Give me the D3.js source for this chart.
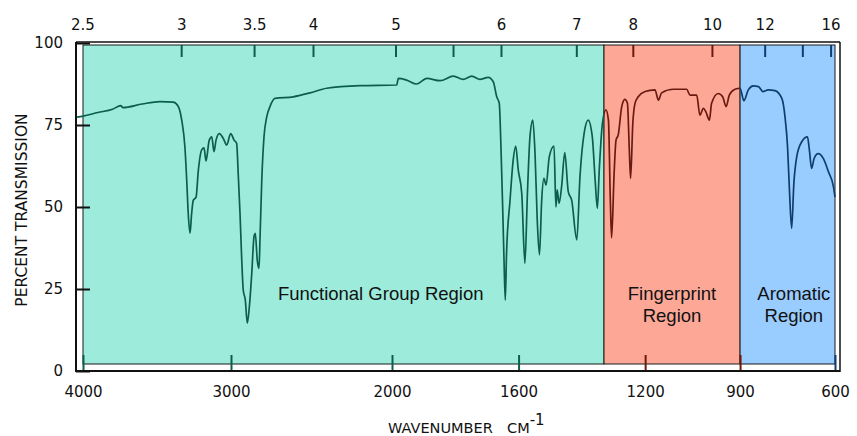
<!DOCTYPE html>
<html>
<head>
<meta charset="utf-8">
<script src="https://cdn.jsdelivr.net/npm/d3@7"></script>
<style>
  body { margin: 0; background: #fff; }
  svg text { font-family: "DejaVu Sans", sans-serif; fill: #111; }
  .tick-label { font-size: 15px; }
  .axis-label { font-size: 14.5px; }
  .region-label { font-family: "Liberation Sans", Arial, sans-serif; font-size: 18.5px; }
</style>
</head>
<body>
<svg width="857" height="436"></svg>
<script>
// spectrum: wavenumber (cm-1) -> percent transmission
const wavenumber = [
  4040, 4000, 3900, 3800, 3745, 3730, 3600, 3480, 3390, 3358, 3333,
  3311, 3299, 3289, 3277, 3266, 3255, 3236, 3221, 3198, 3182,
  3169, 3147, 3130, 3115, 3101, 3079, 3052, 3029, 3002, 2981,
  2965, 2955, 2944, 2934, 2924, 2911, 2899, 2886, 2871, 2857,
  2849, 2837, 2826, 2820, 2809, 2795, 2778, 2758, 2727, 2613,
  2509, 2406, 2199, 1985, 1980, 1954, 1922, 1890, 1848, 1806,
  1775, 1748, 1722, 1696, 1680, 1669, 1661, 1656, 1650, 1646,
  1642, 1638, 1627, 1617, 1609, 1601, 1590, 1580, 1572, 1564,
  1555, 1548, 1541, 1534, 1527, 1520, 1513, 1503, 1488, 1482,
  1478, 1472, 1464, 1454, 1443, 1432, 1416, 1406, 1393, 1380,
  1367, 1358, 1351, 1345, 1335, 1324, 1316, 1310, 1306, 1298,
  1292, 1285, 1274, 1264, 1256, 1250, 1246, 1239, 1232, 1222,
  1200, 1169, 1158, 1148, 1111, 1069, 1058, 1037, 1027, 1016,
  1008, 997, 990, 969, 955, 944, 934, 916, 900, 888,
  874, 858, 842, 828, 811, 790, 768, 758, 750, 744,
  737, 730, 721, 705, 687, 681, 674, 666, 653, 637,
  621, 605, 600
];
const transmission = [
  77.4, 77.7, 78.8, 79.8, 80.9, 80.3, 81.4, 82.1, 82.0, 80.8, 76.5,
  68.0, 58.0, 48.0, 42.0, 48.0, 52.0, 53.0, 61.0, 67.4, 68.0,
  64.0, 70.4, 71.4, 66.9, 70.4, 72.4, 70.9, 68.9, 72.4, 70.4,
  69.4, 60.0, 48.0, 34.8, 24.7, 21.6, 14.6, 19.6, 29.8, 41.0,
  42.0, 33.8, 31.3, 40.0, 58.0, 71.4, 77.5, 80.6, 83.1, 83.6,
  84.8, 86.2, 87.0, 87.2, 89.2, 88.7, 87.5, 89.2, 88.5, 89.9,
  88.9, 89.9, 88.9, 89.5, 88.2, 83.6, 81.6, 69.4, 49.0, 33.8,
  21.6, 35.9, 52.0, 64.3, 68.6, 61.3, 54.2, 32.8, 54.2, 71.4,
  76.5, 66.4, 46.0, 35.4, 52.0, 58.7, 56.7, 65.3, 68.6, 50.0,
  55.2, 51.1, 56.2, 66.6, 54.7, 52.0, 40.0, 59.2, 72.4, 76.5,
  71.4, 58.2, 49.6, 61.3, 75.5, 79.6, 76.5, 52.0, 40.6, 60.3,
  70.4, 72.0, 80.6, 82.8, 81.6, 67.4, 58.7, 75.5, 81.6, 83.6,
  85.2, 85.7, 82.6, 84.8, 85.9, 85.9, 84.1, 84.1, 78.0, 80.1,
  79.0, 76.5, 81.6, 84.6, 83.6, 80.6, 84.1, 85.9, 86.2, 82.4,
  85.7, 86.9, 86.7, 85.2, 85.7, 85.5, 83.1, 77.5, 68.4, 55.2,
  43.5, 57.2, 65.3, 69.9, 71.4, 67.4, 61.8, 64.8, 66.3, 64.8,
  60.8, 56.2, 53.0
];

const bottomTicks = [4000, 3000, 2000, 1600, 1200, 900, 600];
const micronTicks = [2.5, 3, 3.5, 4, 5, 5.5, 6, 7, 8, 10, 12, 14, 16];
const micronLabels = ['2.5', '3', '3.5', '4', '5', '', '6', '7', '8', '10', '12', '', '16'];
const percentTicks = [0, 25, 50, 75, 100];

const regionNames = [['Functional Group Region'], ['Fingerprint', 'Region'], ['Aromatic', 'Region']];
const regionFrom = [4000, 1330, 900];
const regionTo = [1330, 900, 600];

const fills = ['#9debdb', '#fda897', '#99ccff'];
const inks = ['#0b5e4e', '#6a1a10', '#0f3d6e'];

const svg = d3.select('svg');

const frame = { left: 76, right: 840, top: 42, bottom: 371 };
const inner = { top: 45, bottom: 364 };

// the chart paper changes scale at 2000 cm-1
const xScale = d3.scaleLinear()
    .domain([4000, 3000, 2000, 600])
    .range([83, 231, 392, 835]);
// micron scale along the top is printed a little skewed
const xTop = d3.scaleLinear()
    .domain([4000, 3000, 2000, 600])
    .range([83, 231, 396, 839]);
const yScale = d3.scaleLinear()
    .domain([0, 100])
    .range([371, 43]);

const regionOf = wn => {
    for (let i = 0; i < regionTo.length; i++) if (wn >= regionTo[i]) return i;
    return regionTo.length - 1;
};

// coloured regions
svg.append('g').selectAll('rect').data(regionFrom)
  .enter().append('rect')
    .attr('x', d => xScale(d))
    .attr('y', inner.top)
    .attr('width', (d, i) => xScale(regionTo[i]) - xScale(d))
    .attr('height', inner.bottom - inner.top)
    .attr('fill', (d, i) => fills[i])
    .attr('stroke', '#1a1a1a')
    .attr('stroke-width', 1);

// line colour follows the region underneath
const x0 = xScale(4000), x1 = xScale(600);
const grad = svg.append('defs').append('linearGradient')
    .attr('id', 'ink')
    .attr('gradientUnits', 'userSpaceOnUse')
    .attr('x1', x0).attr('x2', x1).attr('y1', 0).attr('y2', 0);
regionFrom.forEach((from, i) => {
    grad.append('stop').attr('offset', (xScale(from) - x0) / (x1 - x0)).attr('stop-color', inks[i]);
    grad.append('stop').attr('offset', (xScale(regionTo[i]) - x0) / (x1 - x0)).attr('stop-color', inks[i]);
});

// top micron ticks
const topG = svg.append('g');
micronTicks.forEach((m, i) => {
    const wn = 10000 / m;
    const x = xTop(wn);
    if (m !== 2.5) {
        topG.append('line')
            .attr('x1', x).attr('x2', x)
            .attr('y1', inner.top).attr('y2', inner.top + 12)
            .attr('stroke', inks[regionOf(wn)])
            .attr('stroke-width', 2);
    }
    if (micronLabels[i]) {
        topG.append('text')
            .attr('class', 'tick-label')
            .attr('x', m === 2.5 ? xScale(wn) : x)
            .attr('y', 30)
            .attr('text-anchor', 'middle')
            .text(micronLabels[i]);
    }
});

// bottom wavenumber axis
const xAxisG = svg.append('g')
    .attr('transform', `translate(0, ${frame.bottom})`)
    .call(d3.axisBottom(xScale).tickValues(bottomTicks).tickSize(-16).tickPadding(15).tickFormat(d3.format('d')));
xAxisG.select('.domain').remove();
xAxisG.selectAll('.tick line')
    .attr('stroke', d => inks[regionOf(d)])
    .attr('stroke-width', 2);
xAxisG.selectAll('.tick text').attr('class', 'tick-label');

// frame
const frameG = svg.append('g').attr('stroke', '#111').attr('fill', 'none');
frameG.append('line').attr('x1', frame.left).attr('x2', frame.right).attr('y1', frame.top).attr('y2', frame.top).attr('stroke-width', 1.5);
frameG.append('line').attr('x1', frame.left).attr('x2', frame.right).attr('y1', frame.bottom).attr('y2', frame.bottom).attr('stroke-width', 2);
frameG.append('line').attr('x1', frame.left).attr('x2', frame.left).attr('y1', frame.top).attr('y2', frame.bottom + 1).attr('stroke-width', 2);
frameG.append('line').attr('x1', frame.right).attr('x2', frame.right).attr('y1', frame.top).attr('y2', frame.bottom + 1).attr('stroke-width', 1.5);

// percent axis
const yAxisG = svg.append('g')
    .attr('transform', `translate(${frame.left}, 0)`)
    .call(d3.axisLeft(yScale).tickValues(percentTicks).tickSize(-14).tickPadding(13));
yAxisG.select('.domain').remove();
yAxisG.selectAll('.tick line').attr('stroke', '#111').attr('stroke-width', 2);
yAxisG.selectAll('.tick text').attr('class', 'tick-label');

// spectrum
const line = d3.line()
    .x(i => xScale(wavenumber[i]))
    .y(i => yScale(transmission[i]))
    .curve(d3.curveMonotoneX);

svg.append('path')
    .datum(d3.range(wavenumber.length))
    .attr('d', line)
    .attr('fill', 'none')
    .attr('stroke', 'url(#ink)')
    .attr('stroke-width', 1.7)
    .attr('stroke-linejoin', 'round');

// region names
const labelAt = [2070, 1115, 730];
regionNames.forEach((lines, i) => {
    const t = svg.append('text')
        .attr('class', 'region-label')
        .attr('text-anchor', 'middle')
        .attr('x', xScale(labelAt[i]))
        .attr('y', 300);
    lines.forEach((s, k) => {
        t.append('tspan')
            .attr('x', xScale(labelAt[i]))
            .attr('dy', k === 0 ? 0 : 22)
            .text(s);
    });
});

// axis titles
svg.append('text')
    .attr('class', 'axis-label')
    .style('font-size', '15.5px')
    .attr('text-anchor', 'middle')
    .attr('transform', 'translate(27, 210) rotate(-90)')
    .text('PERCENT TRANSMISSION');

const xTitle = svg.append('text')
    .attr('class', 'axis-label')
    .attr('x', 388)
    .attr('y', 433);
xTitle.append('tspan').text('WAVENUMBER');
xTitle.append('tspan').attr('dx', 15).text('CM');
xTitle.append('tspan').attr('dy', -8).style('font-size', '15px').text('-1');
</script>
</body>
</html>
